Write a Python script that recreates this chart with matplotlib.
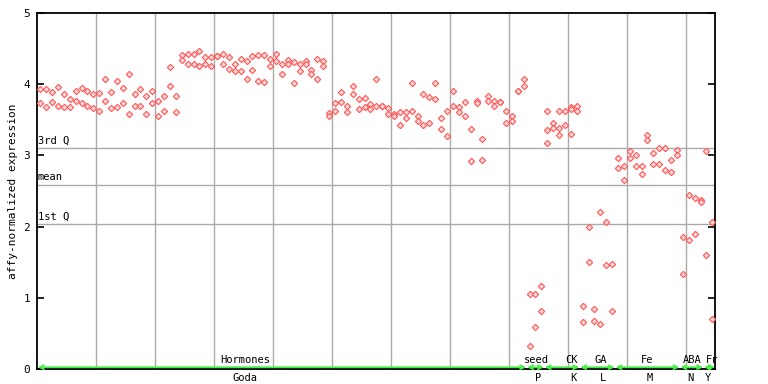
import numpy as np
import matplotlib
matplotlib.use("Agg")
import matplotlib.pyplot as plt

# two replicate values for each of the 115 samples
rep_hi = [3.93, 3.93, 3.89, 3.96, 3.86, 3.79, 3.91, 3.94, 3.90, 3.86,
          3.87, 4.07, 3.89, 4.04, 3.94, 4.15, 3.86, 3.93, 3.83, 3.91,
          3.77, 3.83, 4.24, 3.83, 4.41, 4.42, 4.42, 4.46, 4.38, 4.38,
          4.39, 4.42, 4.38, 4.29, 4.36, 4.32, 4.39, 4.41, 4.41, 4.35,
          4.42, 4.29, 4.34, 4.31, 4.29, 4.32, 4.20, 4.36, 4.32, 3.59,
          3.73, 3.89, 3.69, 3.97, 3.79, 3.80, 3.72, 4.07, 3.69, 3.66,
          3.58, 3.61, 3.61, 4.01, 3.55, 3.86, 3.82, 4.01, 3.52, 3.62,
          3.90, 3.68, 3.75, 3.37, 3.76, 3.23, 3.84, 3.77, 3.75, 3.63,
          3.56, 3.91, 4.07, 1.06, 1.06, 1.16, 3.63, 3.46, 3.62, 3.62,
          3.68, 3.70, 0.89, 1.99, 0.84, 2.21, 2.06, 1.47, 2.96, 2.85,
          3.06, 3.00, 2.85, 3.28, 3.04, 3.10, 3.10, 2.93, 3.08, 1.86,
          2.44, 2.40, 2.37, 3.06, 2.06]
rep_lo = [3.73, 3.68, 3.75, 3.70, 3.68, 3.68, 3.77, 3.73, 3.69, 3.66,
          3.62, 3.76, 3.66, 3.68, 3.73, 3.58, 3.69, 3.69, 3.58, 3.73,
          3.55, 3.62, 3.98, 3.61, 4.34, 4.28, 4.28, 4.25, 4.28, 4.25,
          4.39, 4.28, 4.21, 4.18, 4.18, 4.08, 4.20, 4.04, 4.03, 4.25,
          4.32, 4.14, 4.28, 4.01, 4.18, 4.29, 4.15, 4.07, 4.25, 3.55,
          3.62, 3.75, 3.61, 3.86, 3.65, 3.68, 3.65, 3.69, 3.69, 3.58,
          3.56, 3.42, 3.52, 3.63, 3.48, 3.42, 3.45, 3.79, 3.37, 3.27,
          3.69, 3.61, 3.56, 2.92, 3.73, 2.93, 3.76, 3.70, 3.75, 3.45,
          3.48, 3.91, 3.97, 0.33, 0.59, 0.81, 3.35, 3.39, 3.38, 3.42,
          3.65, 3.62, 0.66, 1.50, 0.67, 0.63, 1.46, 0.82, 2.83, 2.66,
          2.96, 2.85, 2.74, 3.21, 2.88, 2.88, 2.79, 2.76, 3.00, 1.33,
          1.81, 1.89, 2.34, 1.60, 0.70]
# a few CK samples have a third replicate
extra_idx = [86, 88, 90]
extra_val = [3.18, 3.28, 3.30]

q3, mean, q1 = 3.10, 2.58, 2.03

# experiment groups: (top label, bottom label, first sample, last sample, top x, bottom x)
groups = [
    ("Hormones", "Goda", 0, 82, 35.2, 35.2),
    ("seed", "P", 83, 85, 84.7, 84.9),
    ("CK", "K", 86, 91, 90.6, 91.0),
    ("GA", "L", 92, 97, 95.5, 95.9),
    ("Fe", "M", 98, 108, 103.5, 103.9),
    ("ABA", "N", 109, 112, 111.0, 110.8),
    ("Fr", "Y", 113, 114, 114.4, 113.8),
]

mono = "DejaVu Sans Mono"
red = "#ff5555"

fig = plt.figure(figsize=(7.68, 3.84), dpi=100)
ax = fig.add_axes([37.3 / 768, 15 / 384, 678 / 768, 356 / 384])

n = len(rep_hi)
x = np.arange(n) + 0.5
for vals in (rep_hi, rep_lo):
    ax.plot(x, vals, ls="none", marker="D", ms=3.2, mfc="#ffdada",
            mec=red, mew=0.8, zorder=3)
ax.plot(np.array(extra_idx) + 0.5, extra_val, ls="none", marker="D", ms=3.2,
        mfc="#ffdada", mec=red, mew=0.8, zorder=3)

for gx in range(10, 120, 10):
    ax.axvline(gx, color="#aaaaaa", lw=1, zorder=1)
for yv, lab in ((q3, "3rd Q"), (mean, "mean"), (q1, "1st Q")):
    ax.axhline(yv, color="#aaaaaa", lw=1, zorder=1)
    ax.text(0.1, yv + 0.04, lab, fontsize=7.5, family=mono, va="bottom", ha="left")

for top, bot, i0, i1, tx, bx in groups:
    ax.annotate("", xy=(i1 + 0.9, 0.025), xytext=(i0 + 0.1, 0.025),
                arrowprops=dict(arrowstyle="<->", color="#44ee44", lw=1.3,
                                shrinkA=0, shrinkB=0, mutation_scale=7),
                annotation_clip=False, zorder=4)
    ax.text(tx, 0.06, top, fontsize=7.5, family=mono, ha="center", va="bottom")
    ax.text(bx, -0.05, bot, fontsize=7.5, family=mono, ha="center", va="top")

ax.set_xlim(0, 115)
ax.set_ylim(0, 5)
ax.set_xticks([])
ax.set_yticks(range(6))
ax.tick_params(axis="y", direction="in", length=5, width=1.2, labelsize=8,
               right=True, pad=5)
for lab in ax.get_yticklabels():
    lab.set_family(mono)
for sp in ax.spines.values():
    sp.set_linewidth(1.3)
ax.set_ylabel("affy-normalized expression", fontsize=8, family=mono, labelpad=4)

fig.savefig("out.png", dpi=100)
